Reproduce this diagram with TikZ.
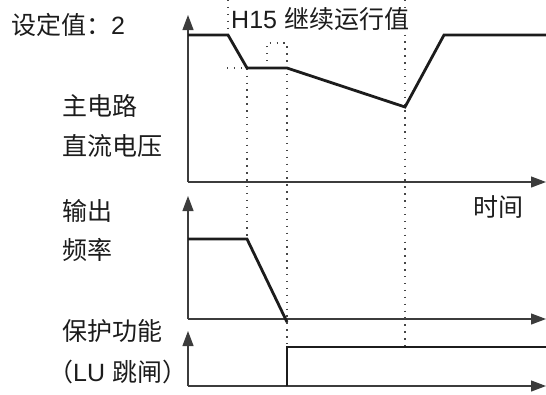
\documentclass[tikz,border=0pt]{standalone}
\usepackage{fontspec}
\setmainfont{Liberation Sans}
\newfontfamily\cjk{Noto Sans CJK SC}
\usetikzlibrary{arrows.meta,positioning}
\definecolor{wvline}{RGB}{28,28,28}
\definecolor{wvaxis}{RGB}{60,60,60}
\definecolor{wvguide}{RGB}{70,70,70}
\tikzset{
  axis/.style={draw=wvaxis, line width=1.2pt, -{Triangle[length=15pt,width=11pt]}},
  wave/.style={draw=wvline, line width=2.8pt, line join=miter},
  guide/.style={draw=wvguide, line width=1.2pt, dash pattern=on 1.4pt off 5.5pt},
  lbl/.style={font=\fontsize{25}{28}\selectfont, text=wvline, anchor=west, inner sep=0pt}
}
\begin{document}
\begin{tikzpicture}[x=1pt,y=-1pt]
  \useasboundingbox (0,0) rectangle (546,394);
  % axes
  \foreach \n/\ya/\yb in {v/15/182,f/196/319,p/331/386}{
    \coordinate (\n top) at (188,\ya);
    \coordinate (\n o) at (188,\yb);
    \coordinate (\n end) at (546,\yb);
    \draw[axis] (\n o) -- (\n top);
    \draw[axis] (\n o) -- (\n end);
  }
  % curve points
  \coordinate (v1) at (188,35);
  \coordinate (v2) at (228,35);
  \coordinate (v3) at (247,68);
  \coordinate (v4) at (287,68);
  \coordinate (v5) at (405,107);
  \coordinate (v6) at (444,35);
  \coordinate (v7) at (546,35);
  \coordinate (f1) at (188,239);
  \coordinate (f2) at (247,239);
  \coordinate (f3) at (287,322);
  \coordinate (p1) at (287,386);
  \coordinate (p2) at (287,347);
  \coordinate (p3) at (546,347);
  % guide lines
  \coordinate (g1) at (228,0);
  \coordinate (g2) at (227,68);
  \coordinate (g3) at (267,68);
  \coordinate (g4) at (267,43);
  \coordinate (g5) at (287,43);
  \coordinate (g6) at (405,0);
  \coordinate (g7) at (405,347);
  \draw[guide] (g1) -- (v2);
  \draw[guide] (g2) -- (v3) -- (f2);
  \draw[guide] (g3) -- (g4) -- (g5) -- (p2);
  \draw[guide] (g6) -- (g7);
  % waveforms
  \draw[wave] (v1) -- (v2) -- (v3) -- (v4) -- (v5) -- (v6) -- (v7);
  \draw[wave] (f1) -- (f2) -- (f3);
  \draw[wave] (p1) -- (p2) -- (p3);
  % labels
  \node[lbl] (setv) at (11,25) {{\cjk 设定值：}2};
  \node[lbl] (h15) at (231,19) {H15 {\cjk 继续运行值}};
  \node[lbl] (dc1) at (62,106) {\cjk 主电路};
  \node[lbl] (dc2) at (62,146) {\cjk 直流电压};
  \node[lbl] (fq1) at (62,211) {\cjk 输出};
  \node[lbl] (fq2) at (62,250) {\cjk 频率};
  \node[lbl] (pr1) at (62,331) {\cjk 保护功能};
  \node[lbl] (pr2) at (48,372) {{\cjk （}LU {\cjk 跳闸）}};
  \node[lbl, anchor=center] (time) at (498,207) {\cjk 时间};
\end{tikzpicture}
\end{document}
